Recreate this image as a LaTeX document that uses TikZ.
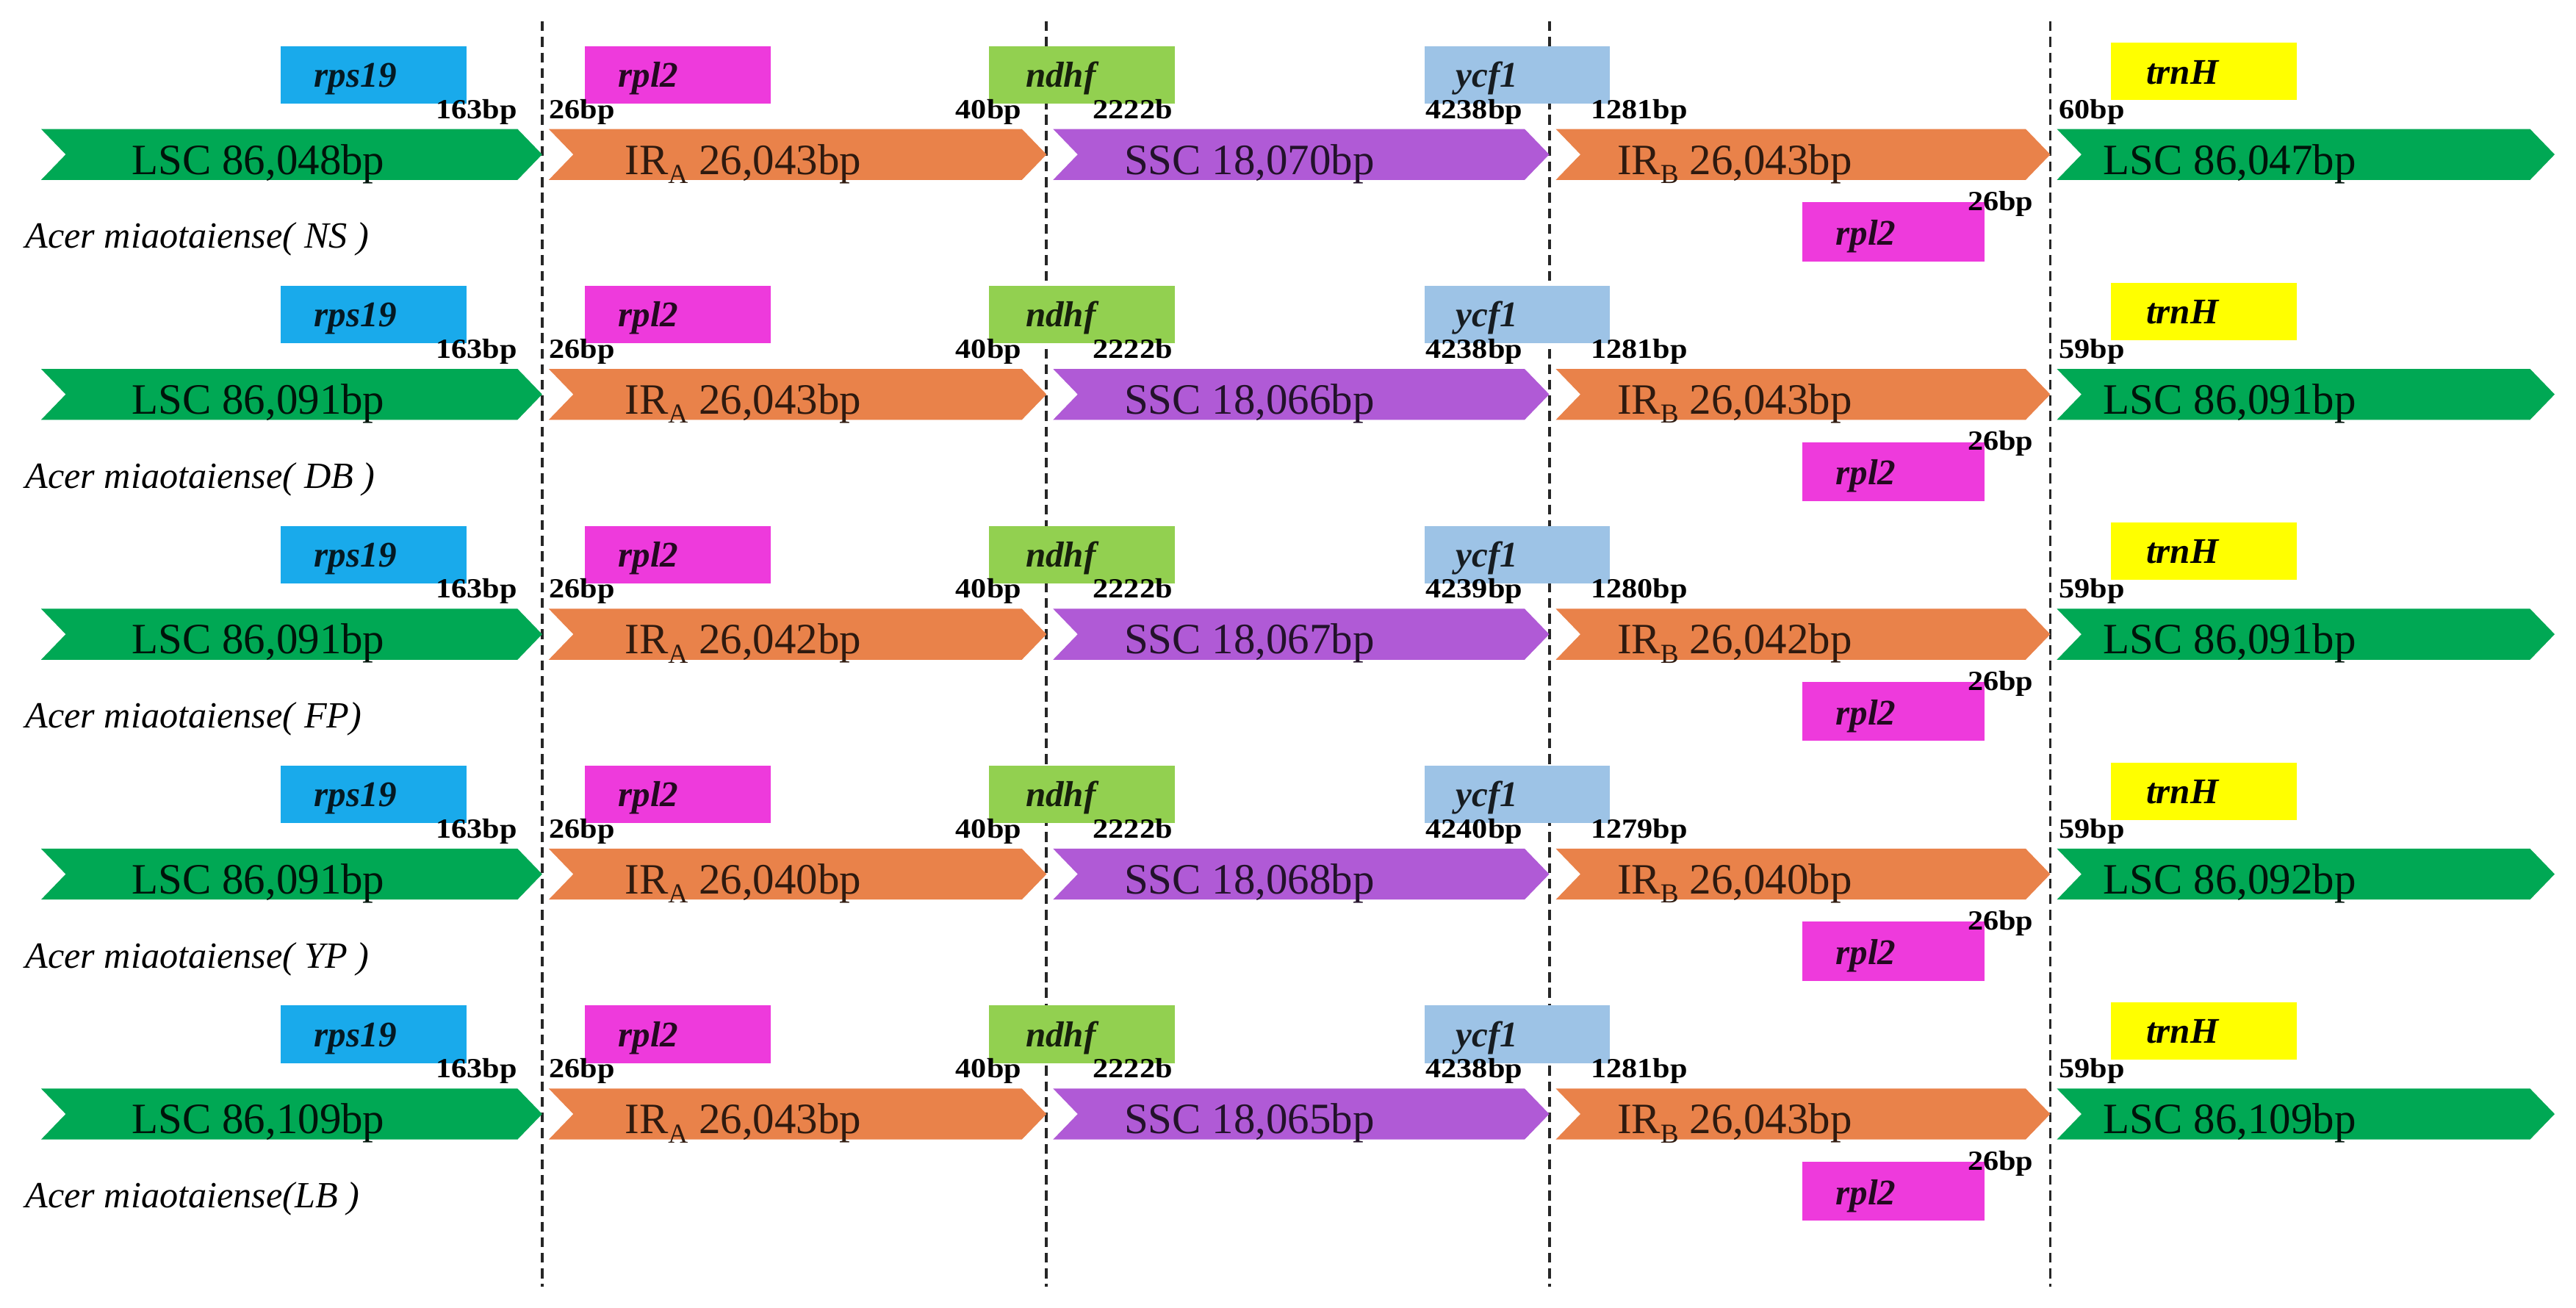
\documentclass[tikz,border=0pt]{standalone}
\usepackage{fontspec}
\setmainfont{Liberation Serif}
\newfontfamily\labfont[FakeStretch=1.12]{Liberation Serif}
\definecolor{lscgreen}{RGB}{0,168,84}
\definecolor{irorange}{RGB}{233,130,74}
\definecolor{sscpurple}{RGB}{176,90,214}
\definecolor{rpsblue}{RGB}{25,170,235}
\definecolor{rplpink}{RGB}{238,58,220}
\definecolor{ndhgreen}{RGB}{146,208,80}
\definecolor{ycfblue}{RGB}{157,195,230}
\definecolor{trnyellow}{RGB}{255,255,0}
\tikzset{
  segtext/.style={anchor=base west, inner sep=0pt, font=\fontsize{15}{17}\selectfont},
  bplab/.style={inner sep=0pt, font=\labfont\bfseries\fontsize{9.6}{11}\selectfont},
  genetext/.style={anchor=base west, inner sep=0pt, font=\bfseries\itshape\fontsize{12.5}{14}\selectfont},
  species/.style={anchor=base west, inner sep=0pt, font=\itshape\fontsize{12.8}{14}\selectfont},
  boundline/.style={dash pattern=on 3.4pt off 2pt, line width=1pt, black!85}
}
\newcommand\chev[4]{\fill[#4] (#1,{#3-15.5}) -- ({#2-15},{#3-15.5}) -- (#2,#3) -- ({#2-15},{#3+15.5}) -- (#1,{#3+15.5}) -- ({#1+15},#3) -- cycle;}
\newcommand\IRsub[1]{IR\raisebox{-0.45ex}{\fontsize{9.5}{10}\selectfont #1}}
% #1 id, #2 centre y, #3 LSC, #4 IRA, #5 SSC, #6 IRB, #7 LSC right, #8 species
\newcommand\segrow[8]{%
  \chev{25}{330}{#2}{lscgreen}
  \chev{334}{637}{#2}{irorange}
  \chev{641}{943}{#2}{sscpurple}
  \chev{947}{1248}{#2}{irorange}
  \chev{1252}{1555}{#2}{lscgreen}
  \node[segtext, text=lscgreen!12!black] (#1-lscl) at (80,{#2+12}) {LSC #3bp};
  \node[segtext, text=irorange!20!black] (#1-ira) at (380,{#2+12}) {\IRsub{A} #4bp};
  \node[segtext, text=sscpurple!20!black] (#1-ssc) at (684,{#2+12}) {SSC #5bp};
  \node[segtext, text=irorange!20!black] (#1-irb) at (984,{#2+12}) {\IRsub{B} #6bp};
  \node[segtext, text=lscgreen!12!black] (#1-lscr) at (1280,{#2+12}) {LSC #7bp};
  \fill[rpsblue] (171,{#2-66}) rectangle (284,{#2-31});
  \fill[rplpink] (356,{#2-66}) rectangle (469,{#2-31});
  \fill[ndhgreen] (602,{#2-66}) rectangle (715,{#2-31});
  \fill[ycfblue] (867,{#2-66}) rectangle (980,{#2-31});
  \fill[trnyellow] (1285,{#2-68}) rectangle (1398,{#2-33});
  \fill[rplpink] (1097,{#2+29}) rectangle (1208,{#2+65});
  \node[genetext, text=rpsblue!15!black] (#1-rps) at (191,{#2-41}) {rps19};
  \node[genetext, text=rplpink!15!black] (#1-rpla) at (376,{#2-41}) {rpl2};
  \node[genetext, text=ndhgreen!15!black] (#1-ndh) at (624,{#2-41}) {ndhf};
  \node[genetext, text=ycfblue!15!black] (#1-ycf) at (886,{#2-41}) {ycf1};
  \node[genetext, text=black] (#1-trn) at (1306,{#2-43}) {trnH};
  \node[genetext, text=rplpink!15!black] (#1-rplb) at (1117,{#2+55}) {rpl2};
  \node[species] (#1-sp) at (15,{#2+57}) {Acer miaotaiense#8};
}
% #1 id, #2 centre y, #3 ycf1 bp, #4 IRB bp, #5 trnH bp
\newcommand\labrow[5]{%
  \node[bplab, anchor=base east] (#1-b1) at (315,{#2-22}) {163bp};
  \node[bplab, anchor=base west] (#1-b2) at (334,{#2-22}) {26bp};
  \node[bplab, anchor=base east] (#1-b3) at (622,{#2-22}) {40bp};
  \node[bplab, anchor=base west] (#1-b4) at (665,{#2-22}) {2222b};
  \node[bplab, anchor=base east] (#1-b5) at (927,{#2-22}) {#3bp};
  \node[bplab, anchor=base west] (#1-b6) at (968,{#2-22}) {#4bp};
  \node[bplab, anchor=base west] (#1-b7) at (1253,{#2-22}) {#5bp};
  \node[bplab, anchor=base east] (#1-b8) at (1238,{#2+34}) {26bp};
}
\begin{document}
\begin{tikzpicture}[x=0.02cm, y=-0.02cm]
  \useasboundingbox[fill=white] (0,0) rectangle (1568,796);
  \foreach \bx/\nm in {330/da, 637/db, 943/dc, 1248/dd} {
    \coordinate (\nm-top) at (\bx,13);
    \coordinate (\nm-bot) at (\bx,783);
    \draw[boundline] (\nm-top) -- (\nm-bot);
  }
  \segrow{r1}{94}{86,048}{26,043}{18,070}{26,043}{86,047}{( NS )}
  \segrow{r2}{240}{86,091}{26,043}{18,066}{26,043}{86,091}{( DB )}
  \segrow{r3}{386}{86,091}{26,042}{18,067}{26,042}{86,091}{( FP)}
  \segrow{r4}{532}{86,091}{26,040}{18,068}{26,040}{86,092}{( YP )}
  \segrow{r5}{678}{86,109}{26,043}{18,065}{26,043}{86,109}{(LB )}
  \labrow{r1}{94}{4238}{1281}{60}
  \labrow{r2}{240}{4238}{1281}{59}
  \labrow{r3}{386}{4239}{1280}{59}
  \labrow{r4}{532}{4240}{1279}{59}
  \labrow{r5}{678}{4238}{1281}{59}
\end{tikzpicture}
\end{document}
